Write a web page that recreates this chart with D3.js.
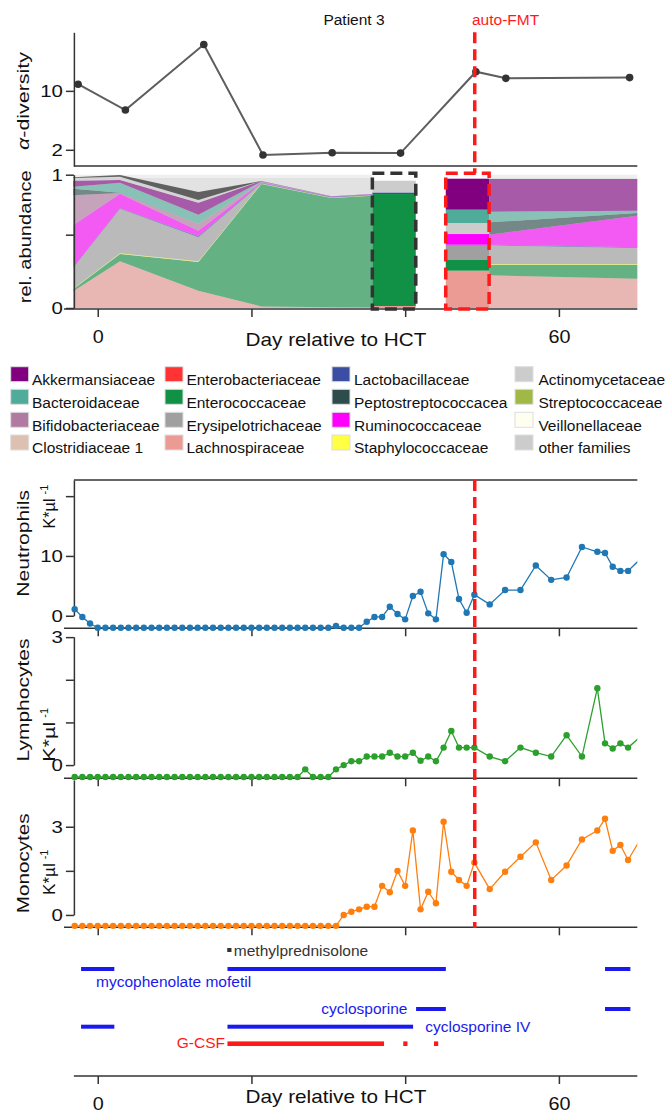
<!DOCTYPE html>
<html>
<head>
<meta charset="utf-8">
<script src="https://cdn.jsdelivr.net/npm/d3@7"></script>
<style>
  body { margin: 0; background: #fff; }
  svg { display: block; }
  text { font-family: "Liberation Sans", Arial, Helvetica, sans-serif; }
</style>
</head>
<body>
<svg id="fig" width="669" height="1115"></svg>
<script>
// ---------- data ----------
// alpha diversity per stool sample
const diversityDays = [-2.55, 3.6, 13.8, 21.5, 30.5, 39.4, 49.2, 53.1, 69.2];
const diversity = [10.9, 7.4, 16.3, 1.3, 1.6, 1.55, 12.6, 11.7, 11.8];

// families, bottom to top of the stack
const stackOrder = ["Lachnospiraceae", "Enterococcaceae", "Staphylococcaceae", "Erysipelotrichaceae",
  "Lactobacillaceae", "Ruminococcaceae", "Bifidobacteriaceae", "Actinomycetaceae",
  "Peptostreptococcacea", "Bacteroidaceae", "Akkermansiaceae", "other families", "Unclassified"];

// relative abundance, rows = sample days, columns = stackOrder
const earlyDays = [-3.2, 2.9, 13.1, 21.3, 30.4, 35.73];
const earlyAbundance = [
  [0.125, 0.015, 0.005, 0.155, 0.003, 0.317, 0.225, 0, 0.05, 0.015, 0.045, 0.02, 0.005],
  [0.35, 0.055, 0.005, 0.335, 0.003, 0.109, 0.005, 0, 0.003, 0.075, 0.02, 0.025, 0.012],
  [0.13, 0.215, 0.005, 0.18, 0.01, 0.04, 0.05, 0, 0, 0.07, 0.09, 0.02, 0.06],
  [0.012, 0.918, 0.003, 0.003, 0.004, 0.003, 0.003, 0, 0, 0.003, 0.004, 0, 0],
  [0.005, 0.82, 0.002, 0.002, 0.005, 0.002, 0, 0, 0, 0, 0.002, 0, 0],
  [0.004, 0.838, 0.002, 0.002, 0.005, 0.002, 0, 0, 0, 0, 0.002, 0, 0]
];
const lateDays = [50.92, 70.2];
const lateAbundance = [
  [0.245, 0.08, 0.005, 0.14, 0.005, 0.075, 0, 0, 0.0925, 0.08, 0.245, 0, 0],
  [0.22, 0.105, 0.005, 0.12, 0.005, 0.2375, 0, 0, 0.02, 0.0175, 0.2375, 0, 0]
];
// single samples shown as bars: before auto-FMT and the auto-FMT product
const preFmtSpan = [35.73, 41.38];
const preFmtAbundance = [0.015, 0.84, 0, 0, 0.012, 0, 0, 0, 0, 0, 0, 0.088, 0];
const fmtSpan = [45.28, 50.92];
const fmtAbundance = [0.28, 0.08, 0, 0.11, 0.005, 0.08, 0, 0.0825, 0, 0.10, 0.2325, 0, 0];

// legend (column-major) and family colours
const legendNames = ["Akkermansiaceae", "Bacteroidaceae", "Bifidobacteriaceae", "Clostridiaceae 1",
  "Enterobacteriaceae", "Enterococcaceae", "Erysipelotrichaceae", "Lachnospiraceae",
  "Lactobacillaceae", "Peptostreptococcacea", "Ruminococcaceae", "Staphylococcaceae",
  "Actinomycetaceae", "Streptococcaceae", "Veillonellaceae", "other families"];
const familyNames = ["Akkermansiaceae", "Bacteroidaceae", "Bifidobacteriaceae", "Clostridiaceae 1",
  "Enterobacteriaceae", "Enterococcaceae", "Erysipelotrichaceae", "Lachnospiraceae",
  "Lactobacillaceae", "Peptostreptococcacea", "Ruminococcaceae", "Staphylococcaceae",
  "Actinomycetaceae", "Streptococcaceae", "Veillonellaceae", "other families", "Unclassified"];
const familyColors = ["#800080", "#4fab9a", "#b07aa1", "#dcc0b0",
  "#ff3333", "#119146", "#a0a0a0", "#ec9a94",
  "#3a4fa4", "#2d4d4d", "#ff00ff", "#ffff44",
  "#cccccc", "#a0b846", "#fffff0", "#cccccc", "#0a0a0a"];

// blood counts (K/µl)
const countDays = [-3, -2, -1, 0, 1, 2, 3, 4, 5, 6, 7, 8, 9, 10, 11, 12, 13, 14, 15, 16, 17, 18, 19, 20,
  21, 22, 23, 24, 25, 26, 27, 28, 29, 30, 31, 32, 33, 34, 35, 36, 37, 38, 39, 40, 41, 42, 43, 44,
  45, 46, 47, 48, 49, 51, 53, 55, 57, 59, 61, 63, 65, 66, 67, 68, 69, 71];
const neutrophils = [1.1, -0.2, -1.3,
  -2, -2, -2, -2, -2, -2, -2, -2, -2, -2, -2, -2, -2, -2, -2, -2, -2, -2, -2, -2, -2,
  -2, -2, -2, -2, -2, -2, -2, -2, -2, -2,
  -1.7, -2, -2, -2,
  -1.0, -0.2, -0.2, 1.5, 0.3, -0.6, 3.3, 4.0, 0.4, -0.6, 10.3, 9.0, 2.8, 0.5, 3.5,
  1.9, 4.3, 4.3, 8.4, 6.0, 6.4, 11.5, 10.7, 10.5, 8.2, 7.5, 7.5, 10.0];
const lymphocytes = [-0.28, -0.28, -0.28, -0.28, -0.28, -0.28, -0.28, -0.28, -0.28, -0.28,
  -0.28, -0.28, -0.28, -0.28, -0.28, -0.28, -0.28, -0.28, -0.28, -0.28,
  -0.28, -0.28, -0.28, -0.28, -0.28, -0.28, -0.28, -0.28, -0.28, -0.28,
  -0.1, -0.28, -0.28, -0.28, -0.1,
  0.0, 0.09, 0.09, 0.2, 0.2, 0.2, 0.29, 0.2, 0.2, 0.29, 0.1, 0.2, 0.09, 0.41, 0.8, 0.41, 0.41, 0.41,
  0.2, 0.09, 0.41, 0.29, 0.2, 0.7, 0.2, 1.8, 0.51, 0.39, 0.51, 0.41, 0.73];
const monocytes = [-0.37, -0.37, -0.37, -0.37, -0.37, -0.37, -0.37, -0.37, -0.37, -0.37,
  -0.37, -0.37, -0.37, -0.37, -0.37, -0.37, -0.37, -0.37, -0.37, -0.37,
  -0.37, -0.37, -0.37, -0.37, -0.37, -0.37, -0.37, -0.37, -0.37, -0.37,
  -0.37, -0.37, -0.37, -0.37, -0.37,
  0.0, 0.11, 0.19, 0.28, 0.28, 0.99, 0.77, 1.5, 0.99, 2.87, 0.19, 0.79, 0.4, 3.17, 1.47, 1.19, 0.99, 1.78,
  0.88, 1.47, 1.98, 2.47, 1.19, 1.68, 2.57, 2.87, 3.27, 2.18, 2.38, 1.87, 2.75];

// medication periods, [start, end] in days
const mycophenolateSpans = [[-2.17, 2.16], [16.88, 45.29], [66.0, 69.3]];
const cyclosporineSpans = [[41.42, 45.29], [66.0, 69.3]];
const cyclosporineIVSpans = [[-2.17, 2.16], [16.88, 41.03]];
const gcsfSpans = [[16.88, 37.25], [39.75, 40.3], [43.75, 44.3]];
const methylprednisoloneSpans = [[16.85, 17.4]];

const fmtDay = 49.05;
const dayTicks = [0, 20, 40, 60];
const dayTickLabels = ["0", "", "", "60"];

// ---------- drawing ----------
const svg = d3.select("#fig");
const colorOf = name => familyColors[familyNames.indexOf(name)];
const AXIS = "#333";
const RED = "#ff1a1a";
const BLUE = "#1a1aee";

const x = d3.scaleLinear().domain([-3.1, 70.2]).range([73.9, 637.3]);
const xLeft = x.range()[0], xRight = x.range()[1];

const defs = svg.append("defs");
defs.append("clipPath").attr("id", "plotClip")
  .append("rect").attr("x", xLeft - 6).attr("y", 0).attr("width", xRight - xLeft + 6).attr("height", 1115);

function hLine(y, x0, x1) {
  svg.append("line").attr("x1", x0).attr("x2", x1).attr("y1", y).attr("y2", y)
    .attr("stroke", AXIS).attr("stroke-width", 1.5);
}

function leftAxis(scale, lo, hi, ticks, labels) {
  const s = scale.copy().domain([lo, hi]).range([scale(lo), scale(hi)]);
  const g = svg.append("g").attr("transform", `translate(${xLeft},0)`)
    .call(d3.axisLeft(s).tickValues(ticks).tickSize(8).tickSizeOuter(0).tickPadding(3)
      .tickFormat((d, i) => labels[i]));
  g.select(".domain").attr("stroke", AXIS).attr("stroke-width", 1.5);
  g.selectAll(".tick line").attr("stroke", AXIS).attr("stroke-width", 1.5);
  g.selectAll(".tick text").attr("font-size", 17).attr("fill", "#111")
    .attr("x", -11 / 1.2).attr("transform", "scale(1.2,1)")
    .style("font-family", '"Liberation Sans", Arial, sans-serif');
  return g;
}

// titleOffset: baseline of "Day relative to HCT" below the axis line (0 = no title)
function bottomAxis(y, x0, withLabels, titleOffset) {
  hLine(y, x0, xRight);
  const g = svg.append("g").attr("transform", `translate(0,${y})`)
    .call(d3.axisBottom(x).tickValues(dayTicks).tickSize(8).tickSizeOuter(0)
      .tickFormat((d, i) => withLabels ? dayTickLabels[i] : ""));
  g.select(".domain").remove();
  g.selectAll(".tick line").attr("stroke", AXIS).attr("stroke-width", 1.5);
  g.selectAll(".tick text").attr("font-size", 18).attr("fill", "#111")
    .attr("y", 34).attr("dy", 0).attr("transform", "scale(1.1,1)")
    .style("font-family", '"Liberation Sans", Arial, sans-serif');
  if (withLabels) {
    svg.append("text").attr("x", 336).attr("y", y + titleOffset).attr("text-anchor", "middle")
      .attr("font-size", 18.5).attr("textLength", 181).attr("lengthAdjust", "spacingAndGlyphs")
      .attr("fill", "#111").text("Day relative to HCT");
  }
}

function yTitle(label, cx, cy, len) {
  svg.append("text").attr("transform", `translate(${cx},${cy}) rotate(-90)`)
    .attr("text-anchor", "middle").attr("font-size", 17).attr("fill", "#111")
    .attr("textLength", len).attr("lengthAdjust", "spacingAndGlyphs").text(label);
}

function unitTitle(cx, yStart, len) {
  const t = svg.append("text").attr("transform", `translate(${cx},${yStart}) rotate(-90)`)
    .attr("font-size", 17).attr("fill", "#111");
  t.append("tspan").attr("textLength", len).attr("lengthAdjust", "spacingAndGlyphs").text("K*µl");
  t.append("tspan").attr("dx", 4).attr("dy", -7).attr("font-size", 11).text("-1");
}

// header
svg.append("text").attr("x", 354).attr("y", 25).attr("text-anchor", "middle")
  .attr("font-size", 15.5).attr("fill", "#111").text("Patient 3");
svg.append("text").attr("x", 472).attr("y", 25)
  .attr("font-size", 15.5).attr("fill", RED).text("auto-FMT");

// ---- alpha diversity ----
const yDiv = d3.scaleLinear().domain([-0.2, 17.95]).range([166, 32.3]);
leftAxis(yDiv, -0.2, 17.95, [2, 10], ["2", "10"]);
hLine(166, xLeft, xRight);
{
  const t = svg.append("text").attr("transform", "translate(28.5,101) rotate(-90)")
    .attr("text-anchor", "middle").attr("font-size", 17).attr("fill", "#111")
    .attr("textLength", 98).attr("lengthAdjust", "spacingAndGlyphs");
  t.append("tspan").attr("font-style", "italic").text("α");
  t.append("tspan").text("-diversity");
}
const divPts = diversityDays.map((d, i) => ({ day: d, v: diversity[i] }));
svg.append("path").datum(divPts)
  .attr("d", d3.line().x(d => x(d.day)).y(d => yDiv(d.v)))
  .attr("fill", "none").attr("stroke", "#5e5e5e").attr("stroke-width", 2);
svg.selectAll("circle.div").data(divPts).join("circle").attr("class", "div")
  .attr("cx", d => x(d.day)).attr("cy", d => yDiv(d.v)).attr("r", 3.8).attr("fill", "#333");

// ---- relative abundance ----
const yAb = d3.scaleLinear().domain([0, 1]).range([308, 174.7]);
const stack = d3.stack().keys(stackOrder);
const toRows = (days, m) => days.map((d, i) => {
  const row = { day: d };
  stackOrder.forEach((k, j) => { row[k] = m[i][j]; });
  return row;
});

// light backdrop behind the area segments (unassigned share up to 1)
[[earlyDays[0], earlyDays[earlyDays.length - 1]], [lateDays[0], lateDays[1]]].forEach(([a, b]) => {
  svg.append("rect").attr("x", x(a)).attr("width", x(b) - x(a))
    .attr("y", yAb(0.975)).attr("height", yAb(0) - yAb(0.975)).attr("fill", "#e2e2e2");
  svg.append("rect").attr("x", x(a)).attr("width", x(b) - x(a))
    .attr("y", yAb(1)).attr("height", yAb(0.975) - yAb(1)).attr("fill", "#efefef");
});

const area = d3.area().x(d => x(d.data.day)).y0(d => yAb(d[0])).y1(d => yAb(d[1]));
[[earlyDays, earlyAbundance], [lateDays, lateAbundance]].forEach(([days, m]) => {
  const series = stack(toRows(days, m));
  svg.append("g").selectAll("path").data(series).join("path")
    .attr("d", area).attr("fill", s => colorOf(s.key)).attr("fill-opacity", 0.6);
});

[[preFmtSpan, preFmtAbundance], [fmtSpan, fmtAbundance]].forEach(([span, vals]) => {
  const row = {};
  stackOrder.forEach((k, j) => { row[k] = vals[j]; });
  const series = stack([row]);
  svg.append("g").selectAll("rect").data(series).join("rect")
    .attr("x", x(span[0])).attr("width", x(span[1]) - x(span[0]))
    .attr("y", s => yAb(s[0][1])).attr("height", s => yAb(s[0][0]) - yAb(s[0][1]))
    .attr("fill", s => colorOf(s.key));
});

leftAxis(yAb, 0, 1, [0, 0.55, 1], ["0", "", "1"]);
bottomAxis(309, 64, true, 37);
yTitle("rel. abundance", 30.5, 236.7, 133);

// dashed frames around the single-sample bars
function frame(span, color) {
  svg.append("rect").attr("x", x(span[0])).attr("width", x(span[1]) - x(span[0]))
    .attr("y", yAb(1) - 1.4).attr("height", yAb(0) - yAb(1) + 2.4)
    .attr("fill", "none").attr("stroke", color).attr("stroke-width", 3.5)
    .attr("stroke-dasharray", "12 6");
}
frame(preFmtSpan, "#333");
frame(fmtSpan, RED);

// ---- legend ----
const legendColX = [10.7, 165, 332, 515];
const legendTextX = [32, 186.4, 354, 538.4];
const legendRowY = [366.7, 389.3, 412.3, 435];
legendNames.forEach((name, i) => {
  const c = Math.floor(i / 4), r = i % 4;
  svg.append("rect").attr("x", legendColX[c]).attr("y", legendRowY[r]).attr("width", 18).attr("height", 15)
    .attr("fill", colorOf(name)).attr("stroke", "#dedede").attr("stroke-width", 1);
  svg.append("text").attr("x", legendTextX[c]).attr("y", legendRowY[r] + 18.3)
    .attr("font-size", 15.5).attr("fill", "#111").text(name);
});

// ---- blood counts ----
function countPanel(values, scale, color) {
  const pts = countDays.map((d, i) => ({ day: d, v: values[i] }));
  const g = svg.append("g").attr("clip-path", "url(#plotClip)");
  g.append("path").datum(pts)
    .attr("d", d3.line().x(d => x(d.day)).y(d => scale(d.v)))
    .attr("fill", "none").attr("stroke", color).attr("stroke-width", 1.3);
  g.selectAll("circle").data(pts).join("circle")
    .attr("cx", d => x(d.day)).attr("cy", d => scale(d.v)).attr("r", 3.2).attr("fill", color);
}

const yN = d3.scaleLinear().domain([-2.1, 22.7]).range([628.3, 480]);
hLine(480, xLeft, xRight);
leftAxis(yN, 0, 22.7, [0, 10, 20], ["0", "10", ""]);
bottomAxis(628.3, 64, false, 0);
countPanel(neutrophils, yN, "#1f77b4");
yTitle("Neutrophils", 28.5, 543.3, 106.7);
unitTitle(54.5, 528.5, 30);

const yL = d3.scaleLinear().domain([-0.31, 3.01]).range([778.3, 636.7]);
leftAxis(yL, 0, 3.01, [0, 1, 2, 3], ["0", "", "", "3"]);
bottomAxis(778.3, 64, false, 0);
countPanel(lymphocytes, yL, "#2ca02c");
yTitle("Lymphocytes", 28.5, 700, 123);
unitTitle(54.5, 761.7, 40);

const yM = d3.scaleLinear().domain([-0.42, 4.59]).range([927.3, 780]);
leftAxis(yM, 0, 4.59, [0, 1.5, 3], ["0", "", "3"]);
bottomAxis(927.3, 64, false, 0);
countPanel(monocytes, yM, "#ff7f0e");
yTitle("Monocytes", 28.5, 863.3, 100);
unitTitle(54.5, 895, 31.7);

// ---- auto-FMT marker ----
const fx = x(fmtDay);
[[32.3, yAb(1) - 1.4], [480, 928]].forEach(([a, b]) => {
  svg.append("line").attr("x1", fx).attr("x2", fx).attr("y1", a).attr("y2", b)
    .attr("stroke", RED).attr("stroke-width", 3.5).attr("stroke-dasharray", "11 6");
});

// ---- medication ----
function spans(list, y, h, color) {
  svg.append("g").selectAll("rect").data(list).join("rect")
    .attr("x", d => x(d[0])).attr("width", d => x(d[1]) - x(d[0]))
    .attr("y", y - h / 2).attr("height", h).attr("fill", color);
}
spans(methylprednisoloneSpans, 950, 4, "#333");
svg.append("text").attr("x", 233.8).attr("y", 955.5).attr("font-size", 15.5).attr("fill", "#333")
  .text("methylprednisolone");
spans(mycophenolateSpans, 969, 4, BLUE);
svg.append("text").attr("x", 96).attr("y", 986.5).attr("font-size", 15.5).attr("fill", BLUE)
  .text("mycophenolate mofetil");
spans(cyclosporineSpans, 1009, 4, BLUE);
svg.append("text").attr("x", 407.4).attr("y", 1014).attr("text-anchor", "end")
  .attr("font-size", 15.5).attr("fill", BLUE).text("cyclosporine");
spans(cyclosporineIVSpans, 1026.7, 4, BLUE);
svg.append("text").attr("x", 425.3).attr("y", 1031.7).attr("font-size", 15.5).attr("fill", BLUE)
  .text("cyclosporine IV");
spans(gcsfSpans, 1043.7, 4.6, RED);
svg.append("text").attr("x", 225).attr("y", 1048.3).attr("text-anchor", "end")
  .attr("font-size", 15.5).attr("fill", RED).text("G-CSF");

bottomAxis(1076, xLeft, true, 27);
</script>
</body>
</html>
